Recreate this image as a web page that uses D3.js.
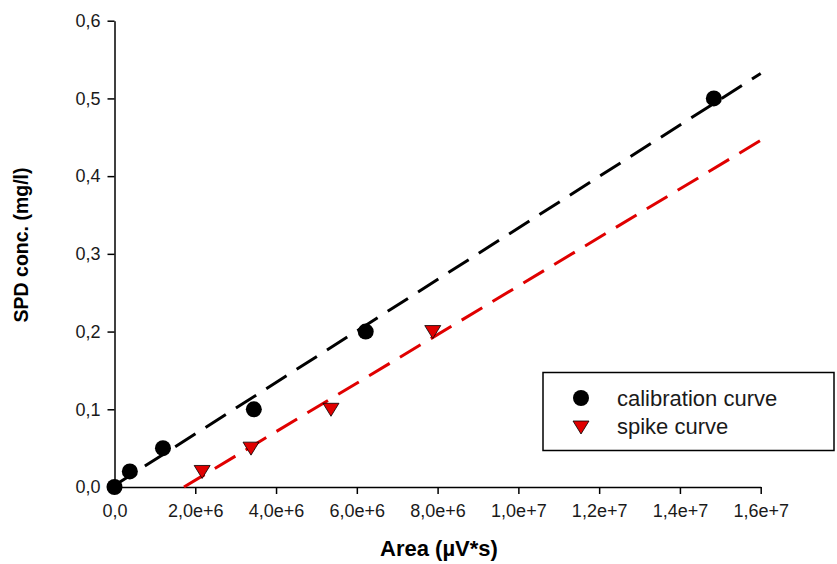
<!DOCTYPE html>
<html>
<head>
<meta charset="utf-8">
<script src="https://cdn.jsdelivr.net/npm/d3@7"></script>
<style>
    body { margin: 0; background: #fff; }
    svg { display: block; font-family: "Liberation Sans", Arial, sans-serif; }
</style>
</head>
<body>
<svg id="chart" width="837" height="564"></svg>
<script>
// calibration points (area in µV*s, concentration in mg/l)
const calibArea = [0, 3.8e5, 1.2e6, 3.45e6, 6.22e6, 1.484e7];
const calibConc = [0, 0.02, 0.05, 0.1, 0.2, 0.5];

// spike points
const spikeArea = [2.17e6, 3.38e6, 5.36e6, 7.88e6];
const spikeConc = [0.02, 0.05, 0.1, 0.2];

// fitted lines (start / end)
const calibFitArea = [0, 1.6e7];
const calibFitConc = [0.002, 0.532];
const spikeFitArea = [1.72e6, 1.6e7];
const spikeFitConc = [0, 0.446];

const xTickValues = [0, 2e6, 4e6, 6e6, 8e6, 1e7, 1.2e7, 1.4e7, 1.6e7];
const xTickLabels = ['0,0', '2,0e+6', '4,0e+6', '6,0e+6', '8,0e+6', '1,0e+7', '1,2e+7', '1,4e+7', '1,6e+7'];
const yTickValues = [0, 0.1, 0.2, 0.3, 0.4, 0.5, 0.6];
const yTickLabels = ['0,0', '0,1', '0,2', '0,3', '0,4', '0,5', '0,6'];

const seriesNames = ['calibration curve', 'spike curve'];

const svg = d3.select('#chart');

var x = d3.scaleLinear().domain([0, 1.6e7]).range([114.5, 760.7]);
var y = d3.scaleLinear().domain([0, 0.6]).range([487, 20.7]);

// axes
const xAxis = svg.append('g')
    .attr('transform', 'translate(0,' + y(0) + ')')
    .call(d3.axisBottom(x)
        .tickValues(xTickValues)
        .tickFormat((d, i) => xTickLabels[i])
        .tickSize(7)
        .tickSizeOuter(0)
        .tickPadding(10));
const yAxis = svg.append('g')
    .attr('transform', 'translate(' + x(0) + ',0)')
    .call(d3.axisLeft(y)
        .tickValues(yTickValues)
        .tickFormat((d, i) => yTickLabels[i])
        .tickSize(7)
        .tickSizeOuter(0)
        .tickPadding(7));

[xAxis, yAxis].forEach(a => {
    a.selectAll('path, line').attr('stroke', '#000').attr('stroke-width', 1.5);
    a.selectAll('text').attr('font-size', 18).attr('fill', '#1a1a1a')
        .attr('font-family', '"Liberation Sans", Arial, sans-serif');
});

// axis titles
svg.append('text')
    .attr('x', 439).attr('y', 556)
    .attr('text-anchor', 'middle')
    .attr('font-size', 22).attr('font-weight', 'bold')
    .text('Area (µV*s)');
svg.append('text')
    .attr('transform', 'translate(28,245) rotate(-90)')
    .attr('text-anchor', 'middle')
    .attr('font-size', 19.5).attr('font-weight', 'bold')
    .text('SPD conc. (mg/l)');

// fitted lines
var line = d3.line()
    .x(p => x(p[0]))
    .y(p => y(p[1]));

svg.append('path')
    .datum(d3.zip(calibFitArea, calibFitConc))
    .attr('fill', 'none')
    .attr('stroke', '#000')
    .attr('stroke-width', 3)
    .attr('stroke-dasharray', '24,12')
    .attr('d', line);
svg.append('path')
    .datum(d3.zip(spikeFitArea, spikeFitConc))
    .attr('fill', 'none')
    .attr('stroke', '#e00000')
    .attr('stroke-width', 3)
    .attr('stroke-dasharray', '24,12')
    .attr('d', line);

// markers
const tri = 'M-8,-6L8,-6L0,7Z';

svg.append('g').selectAll('circle')
    .data(d3.zip(calibArea, calibConc))
    .join('circle')
    .attr('cx', d => x(d[0]))
    .attr('cy', d => y(d[1]))
    .attr('r', 8)
    .attr('fill', '#000');

svg.append('g').selectAll('path')
    .data(d3.zip(spikeArea, spikeConc))
    .join('path')
    .attr('transform', d => 'translate(' + x(d[0]) + ',' + y(d[1]) + ')')
    .attr('d', tri)
    .attr('fill', '#e00000')
    .attr('stroke', '#000')
    .attr('stroke-width', 0.8);

// legend
const legend = svg.append('g');
legend.append('rect')
    .attr('x', 543).attr('y', 372.5)
    .attr('width', 291).attr('height', 78)
    .attr('fill', '#fff')
    .attr('stroke', '#000')
    .attr('stroke-width', 1.5);
legend.append('circle')
    .attr('cx', 581).attr('cy', 398).attr('r', 8).attr('fill', '#000');
legend.append('path')
    .attr('transform', 'translate(581,427)')
    .attr('d', tri)
    .attr('fill', '#e00000')
    .attr('stroke', '#000')
    .attr('stroke-width', 0.8);
legend.selectAll('text')
    .data(seriesNames)
    .join('text')
    .attr('x', 617)
    .attr('y', (d, i) => 405.5 + i * 28.5)
    .attr('font-size', 22)
    .attr('fill', '#1a1a1a')
    .text(d => d);
</script>
</body>
</html>
